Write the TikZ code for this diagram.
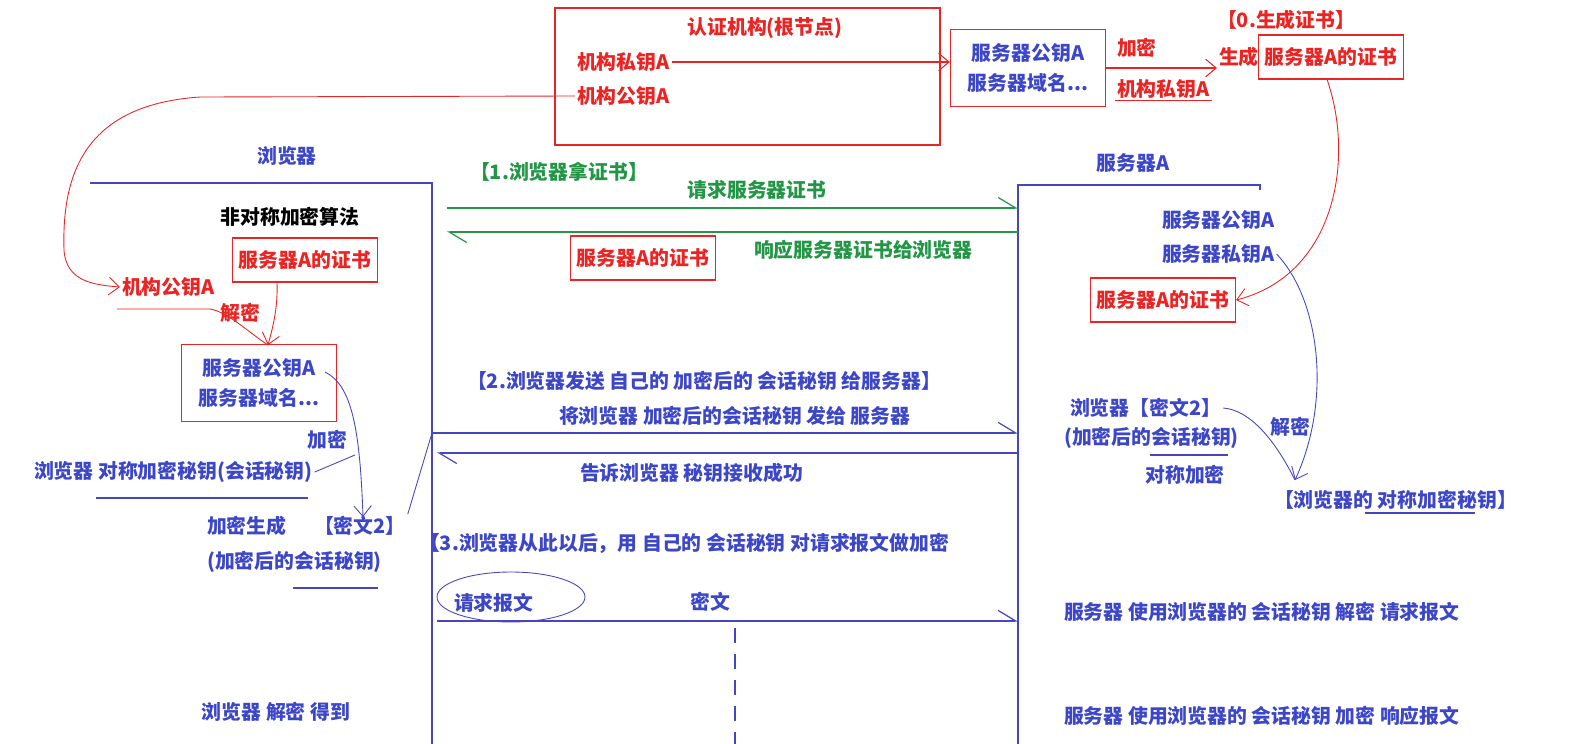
\documentclass[tikz,border=0pt]{standalone}
\usepackage{fontspec}
\setmainfont{Noto Sans CJK SC}
\usetikzlibrary{arrows.meta}

\definecolor{certred}{RGB}{235,35,35}
\definecolor{keyblue}{RGB}{60,70,200}
\definecolor{lineblue}{RGB}{70,70,190}
\definecolor{msggreen}{RGB}{35,150,70}

\tikzset{
  lbl/.style={font=\bfseries\fontsize{11.3}{17}\selectfont, inner sep=1pt},
  redlbl/.style={lbl, text=certred},
  bluelbl/.style={lbl, text=keyblue},
  greenlbl/.style={lbl, text=msggreen},
  certbox/.style={redlbl, draw=certred, line width=0.7pt, minimum width=2.9cm, minimum height=0.88cm},
  keybox/.style={bluelbl, draw=certred, line width=0.7pt, align=center, minimum width=3.1cm, minimum height=1.54cm},
  hand/.style={line width=0.5pt, -{Straight Barb[length=6pt,width=10pt]}},
  msg/.style={line width=0.7pt, -{Straight Barb[left,length=10pt,width=12pt]}},
}

\begin{document}
\begin{tikzpicture}[x=0.02cm, y=-0.02cm]
    \useasboundingbox (0,0) rectangle (1590,744);

    % Certificate authority
    \draw[certred, line width=0.7pt] (555,8) rectangle (940,145);
    \node[redlbl] (authname) at (765,28) {认证机构(根节点)};
    \node[redlbl, anchor=west] (authpri) at (575,62) {机构私钥A};
    \node[redlbl, anchor=west] (authpub) at (575,96) {机构公钥A};

    % Server data signed into the certificate
    \node[keybox] (srvinfo) at (1028,68) {服务器公钥A\\服务器域名...};
    \draw[certred, hand, line width=0.6pt] (authpri.east) -- (srvinfo.west |- authpri.east);
    \node[redlbl, anchor=west] (enc0) at (1115,48) {加密};
    \node[redlbl, anchor=west] (authpri2) at (1115,89) {机构私钥A};
    \draw[certred, line width=0.6pt] (authpri2.south west) -- (authpri2.south east);
    \node[redlbl, anchor=west] (step0) at (1215,20) {【0.生成证书】};
    \node[redlbl, anchor=west] (gen0) at (1217,57) {生成};
    \node[certbox, anchor=west] (cert0) at (1258,57) {服务器A的证书};
    \draw[certred, hand, line width=0.6pt] (srvinfo.east) -- (gen0.west |- srvinfo.east);

    % Browser side
    \node[bluelbl] (browser) at (287,156) {浏览器};
    \draw[lineblue, line width=0.7pt] (90,183) -- (432,183) -- (432,744);
    \node[lbl] (algo) at (290,217) {非对称加密算法};
    \node[certbox] (cert1) at (305,260) {服务器A的证书};
    \node[redlbl, anchor=west] (brpub) at (120,287) {机构公钥A};
    \node[redlbl] (dec1) at (240,313) {解密};
    \node[keybox] (keys1) at (259,383) {服务器公钥A\\服务器域名...};
    \node[bluelbl] (enc1) at (327,440) {加密};
    \node[bluelbl, anchor=west] (sesskey) at (32,472) {浏览器 对称加密秘钥(会话秘钥)};
    \node[bluelbl, anchor=west] (gen1) at (205,526) {加密生成};
    \node[bluelbl, anchor=west] (ct1) at (312,526) {【密文2】};
    \node[bluelbl, anchor=west] (ct1b) at (205,562) {(加密后的会话秘钥)};
    \node[bluelbl] (brdec) at (276,712) {浏览器 解密 得到};

    % Public key of the authority handed to the browser
    \draw[certred, hand] (authpub.west) -- (200,97) .. controls (80,105) and (62,180) .. (64,250)
        .. controls (66,282) and (95,285) .. (brpub.west);
    \coordinate (u1) at (117,309);
    \coordinate (dec1pt) at (268,345);
    \draw[certred, line width=0.5pt] (u1) -- (210,309) .. controls (228,312) and (248,332) .. (dec1pt);
    \draw[certred, hand] ([xshift=-0.56cm]cert1.south) .. controls (278,310) and (272,330) .. (dec1pt);

    % Session key encrypted with the server key
    \coordinate (k1) at (325,372);
    \coordinate (enc1pt) at (363,517);
    \draw[lineblue, hand] (k1) .. controls (352,385) and (360,430) .. (enc1pt);
    \draw[lineblue, line width=0.5pt] (sesskey.east) -- (355,455);
    \draw[lineblue, line width=0.6pt] (96,498) -- (308,498);
    \draw[lineblue, line width=0.6pt] (293,588) -- (378,588);
    \coordinate (m2a) at (432,433);
    \draw[lineblue, line width=0.5pt] (ct1.north east) -- (m2a);

    % Server side
    \node[bluelbl] (server) at (1133,163) {服务器A};
    \draw[lineblue, line width=0.7pt] (1260,190) -- (1260,185) -- (1018,185) -- (1018,744);
    \node[bluelbl, anchor=west] (srvpub) at (1160,220) {服务器公钥A};
    \node[bluelbl, anchor=west] (srvpri) at (1160,254) {服务器私钥A};
    \node[certbox] (cert3) at (1163,300) {服务器A的证书};
    \draw[certred, hand] ([xshift=-0.08cm]cert0.south) .. controls (1355,160) and (1335,275) .. (cert3.east);
    \node[bluelbl, anchor=west] (ct3) at (1068,408) {浏览器【密文2】};
    \node[bluelbl, anchor=west] (ct3b) at (1062,438) {(加密后的会话秘钥)};
    \draw[lineblue, line width=0.6pt] (1150,455) -- (1228,455);
    \node[bluelbl] (sym3) at (1185,475) {对称加密};
    \node[bluelbl] (dec3) at (1290,427) {解密};
    \node[bluelbl, anchor=west] (symkey) at (1272,500) {【浏览器的 对称加密秘钥】};
    \draw[lineblue, line width=0.6pt] (1365,513) -- (1475,513);
    \coordinate (dec3pt) at (1295,480);
    \draw[lineblue, hand] (srvpri.east) .. controls (1320,300) and (1332,400) .. (dec3pt);
    \draw[lineblue, line width=0.5pt] (ct3.east) .. controls (1250,410) and (1275,440) .. (dec3pt);
    \node[bluelbl, anchor=west] (srvdec) at (1062,612) {服务器 使用浏览器的 会话秘钥 解密 请求报文};
    \node[bluelbl, anchor=west] (srvenc) at (1062,716) {服务器 使用浏览器的 会话秘钥 加密 响应报文};

    % Step 1: certificate
    \node[greenlbl, anchor=west] (step1) at (468,172) {【1.浏览器拿证书】};
    \node[greenlbl] (req1) at (757,190) {请求服务器证书};
    \coordinate (m1a) at (447,208);
    \coordinate (m1b) at (1018,208);
    \coordinate (r1a) at (1018,232);
    \coordinate (r1b) at (447,232);
    \draw[msggreen, msg] (m1a) -- (m1b);
    \draw[msggreen, msg] (r1a) -- (r1b);
    \node[certbox] (cert2) at (643,258) {服务器A的证书};
    \node[greenlbl, anchor=west] (resp1) at (752,250) {响应服务器证书给浏览器};

    % Step 2: session key
    \node[bluelbl, anchor=west] (step2) at (465,381) {【2.浏览器发送 自己的 加密后的 会话秘钥 给服务器】};
    \node[bluelbl, anchor=west] (send2) at (557,416) {将浏览器 加密后的会话秘钥 发给 服务器};
    \coordinate (m2b) at (1018,433);
    \coordinate (r2a) at (1018,453);
    \coordinate (r2b) at (437,453);
    \draw[lineblue, msg] (m2a) -- (m2b);
    \draw[lineblue, msg] (r2a) -- (r2b);
    \node[bluelbl, anchor=west] (ok2) at (578,473) {告诉浏览器 秘钥接收成功};

    % Step 3: encrypted requests
    \node[bluelbl, anchor=west] (step3) at (418,543) {【3.浏览器从此以后，用 自己的 会话秘钥 对请求报文做加密};
    \node[bluelbl, anchor=west] (reqmsg) at (452,603) {请求报文};
    \draw[lineblue, line width=0.5pt] (511,597) ellipse [x radius=1.48cm, y radius=0.5cm];
    \node[bluelbl] (cipher) at (710,602) {密文};
    \coordinate (m3a) at (437,621);
    \coordinate (m3b) at (1018,621);
    \draw[lineblue, msg] (m3a) -- (m3b);
    \draw[lineblue, line width=0.7pt, dash pattern=on 0.3cm off 0.22cm] (735,628) -- (735,744);
\end{tikzpicture}
\end{document}
